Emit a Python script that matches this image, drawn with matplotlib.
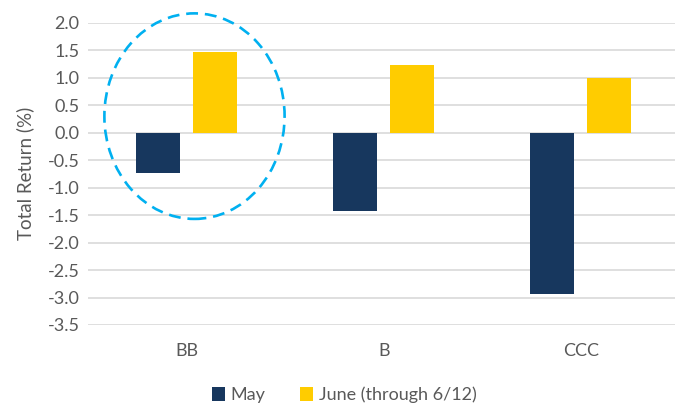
""" plot.py

High yield total returns by rating, May vs June (through 6/12)
"""

import numpy as np
import matplotlib
matplotlib.use('Agg')
import matplotlib.pyplot as plt
from matplotlib.patches import Ellipse

ratings = ['BB', 'B', 'CCC']
may_returns = [-0.73, -1.43, -2.93]
june_returns = [1.46, 1.23, 1.00]
series_labels = ['May', 'June (through 6/12)']
y_ticks = [2.0, 1.5, 1.0, 0.5, 0.0, -0.5, -1.0, -1.5, -2.0, -2.5, -3.0, -3.5]

NAVY = '#17375e'
GOLD = '#ffcc00'
CYAN = '#00b0f0'
GREY_TEXT = '#595959'

plt.rcParams['font.family'] = ['Lato', 'DejaVu Sans']

fig = plt.figure(figsize=(6.75, 4.07), dpi=100)
ax = fig.add_axes([0.1304, 0.2015, 0.8696, 0.7427])

x = np.arange(len(ratings))
width = 0.223
offset = 0.289 / 2

ax.bar(x - offset, may_returns, width, color=NAVY, label=series_labels[0], zorder=3)
ax.bar(x + offset, june_returns, width, color=GOLD, label=series_labels[1], zorder=3)

# dashed circle around the BB group
ring = Ellipse((0.04, 0.30), 0.914, 3.74, fill=False, edgecolor=CYAN,
               linewidth=1.9, linestyle=(0, (4.5, 2.6)), clip_on=False, zorder=4)
ax.add_patch(ring)

ax.set_xlim(-0.5, 2.477)
ax.set_ylim(-3.5, 2.0)
ax.set_yticks(y_ticks)
ax.set_yticklabels([f'{t:.1f}' for t in y_ticks])
ax.set_xticks(x)
ax.set_xticklabels(ratings)

ax.grid(axis='y', color='#d9d9d9', linewidth=1.2, zorder=0)
ax.set_axisbelow(True)
for side in ax.spines.values():
    side.set_visible(False)
ax.tick_params(axis='both', length=0, labelsize=13, colors=GREY_TEXT)
ax.tick_params(axis='x', pad=13)
ax.tick_params(axis='y', pad=6)

ax.set_ylabel('Total Return (%)', fontsize=13.5, color=GREY_TEXT, labelpad=10)

fig.legend(loc='center', bbox_to_anchor=(344 / 675, 1 - 395 / 407), ncol=2,
           frameon=False, fontsize=13, labelcolor=GREY_TEXT,
           handlelength=0.75, handleheight=0.75, handletextpad=0.3,
           columnspacing=1.9)

fig.savefig('out.png', dpi=100)
